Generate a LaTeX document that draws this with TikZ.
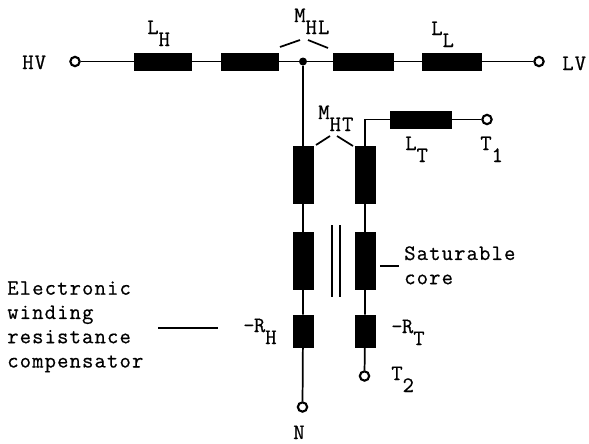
\documentclass[tikz,border=0pt]{standalone}
\usepackage{fontspec}
\setmonofont[LetterSpace=5.2,FakeBold=0.6]{Latin Modern Mono}
\newcommand{\lowered}[1]{\raisebox{-9pt}{#1}}
\newcommand{\shortdash}{-\hspace{-0.5pt}}
\tikzset{
  hcoil/.style={rectangle,fill=black,draw=black,minimum width=43,minimum height=13,inner sep=0pt},
  vcoil/.style={rectangle,fill=black,draw=black,minimum width=15,minimum height=43,inner sep=0pt},
  rcoil/.style={rectangle,fill=black,draw=black,minimum width=15,minimum height=24,inner sep=0pt},
  terminal/.style={circle,draw=black,fill=white,line width=1.6pt,minimum size=7,inner sep=0pt},
  lbl/.style={anchor=base west,inner sep=0pt,font=\ttfamily\fontsize{16.5}{18.2}\selectfont},
  wire/.style={line width=1.3pt},
}
\begin{document}
\begin{tikzpicture}[x=0.75pt,y=-0.75pt]
  \useasboundingbox (0,0) rectangle (589,443);
  % main line
  \node[terminal] (hv) at (75,61.5) {};
  \node[hcoil] (lh) at (163,61.5) {};
  \node[hcoil] (hl) at (250,61.5) {};
  \node[circle,fill=black,minimum size=6,inner sep=0pt] (j) at (303,61.5) {};
  \node[hcoil,minimum width=45] (ll) at (363,61.5) {};
  \node[hcoil,minimum width=44] (lo) at (452,61.5) {};
  \node[terminal] (lv) at (539,61.5) {};
  \draw[wire] (hv)--(lh) (lh)--(hl) (hl)--(j)--(ll) (ll)--(lo) (lo)--(lv);

  % left column
  \node[vcoil] (h1) at (303,175) {};
  \node[vcoil] (h2) at (303,261) {};
  \node[rcoil] (h3) at (303,331) {};
  \node[terminal] (n) at (302.5,407) {};
  \draw[wire] (j)--(h1) (h1)--(h2) (h2)--(h3) (h3)--(n);

  % right column
  \node[hcoil,minimum width=46] (lt) at (421,119.5) {};
  \node[terminal] (t1) at (487,119.5) {};
  \node[vcoil] (t3) at (365,175) {};
  \node[vcoil] (t4) at (365,261) {};
  \node[rcoil] (t5) at (365,331) {};
  \node[terminal] (t2) at (364.5,376) {};
  \draw[wire] (t3.north)|-(lt) (lt)--(t1);
  \draw[wire] (t3)--(t4) (t4)--(t5) (t5)--(t2);

  % core and small strokes
  \coordinate (c1a) at (332,225);
  \coordinate (c1b) at (332,297);
  \coordinate (c2a) at (340,225);
  \coordinate (c2b) at (340,297);
  \draw[wire] (c1a)--(c1b) (c2a)--(c2b);
  \coordinate (m1a) at (280,47);
  \coordinate (m1b) at (300,40);
  \coordinate (m2a) at (308,40);
  \coordinate (m2b) at (328,48);
  \coordinate (m3a) at (316,145);
  \coordinate (m3b) at (330,136);
  \coordinate (m4a) at (337,136);
  \coordinate (m4b) at (353,146);
  \draw[wire] (m1a)--(m1b) (m2a)--(m2b) (m3a)--(m3b) (m4a)--(m4b);
  \coordinate (sa) at (380,266);
  \coordinate (sb) at (399,266);
  \coordinate (ea) at (158,328);
  \coordinate (eb) at (218,328);
  \draw[wire] (sa)--(sb) (ea)--(eb);

  % labels
  \node[lbl] (hvl) at (22,69) {HV};
  \node[lbl] (lvl) at (562,70) {LV};
  \node[lbl] (lhl) at (147,34) {L\lowered{H}};
  \node[lbl] (mhl) at (294,22) {M\lowered{HL}};
  \node[lbl] (lll) at (431,35) {L\lowered{L}};
  \node[lbl] (mht) at (318,119) {M\lowered{HT}};
  \node[lbl] (ltl) at (405,150) {L\lowered{T}};
  \node[lbl] (t1l) at (480,150) {T\lowered{1}};
  \node[lbl] (t2l) at (391,380) {T\lowered{2}};
  \node[lbl] (rhl) at (243,332) {\shortdash R\lowered{H}};
  \node[lbl] (rtl) at (391,333) {\shortdash R\lowered{T}};
  \node[lbl] (nl) at (293,439) {N};
  \node[lbl,anchor=north west,align=left] (satl) at (404,246) {Saturable\\core};
  \node[lbl,anchor=north west,align=left] (compl) at (7,281) {Electronic\\winding\\resistance\\compensator};
\end{tikzpicture}
\end{document}
